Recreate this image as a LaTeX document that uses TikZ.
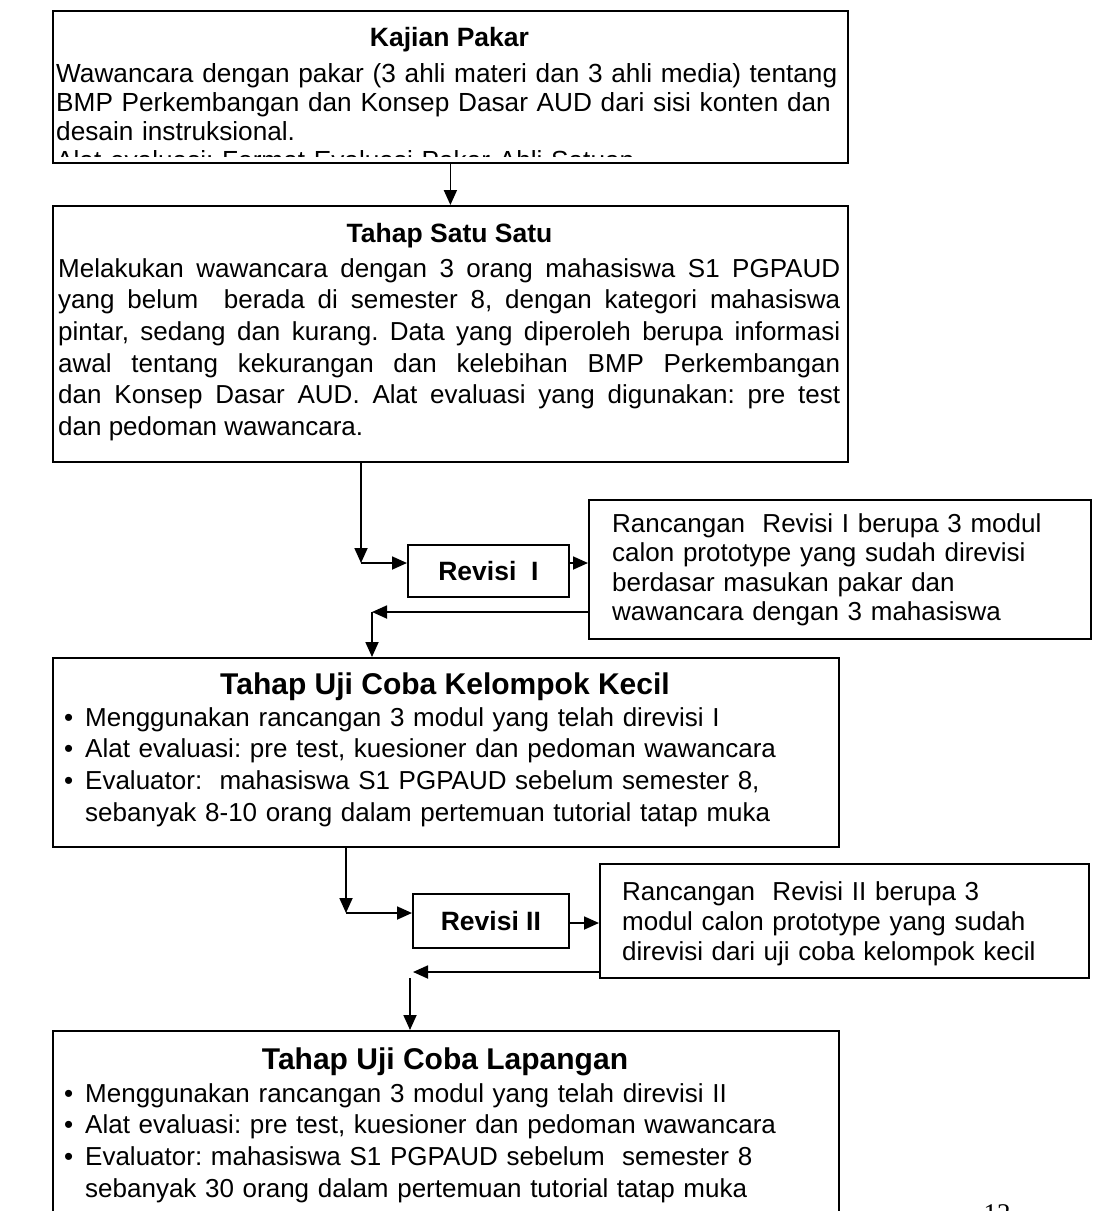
\documentclass[tikz,border=0pt]{standalone}
\usepackage{fontspec}
\setmainfont{Liberation Sans}
\newfontfamily\pagefont{Liberation Serif}
\usetikzlibrary{arrows.meta}
\frenchspacing
\hyphenpenalty=10000
\newcommand\blt{\noindent\makebox[21pt][l]{\textbullet}}
\newcommand\hng{\hfil\break\hspace*{21pt}}
\begin{document}
\begin{tikzpicture}[x=1pt,y=-1pt,
  box/.style={draw, line width=1.8pt, inner sep=0pt, anchor=north west},
  conn/.style={line width=1.8pt, -{Triangle[length=15pt,width=13pt]}},
  body/.style={inner sep=0pt, anchor=north west, align=left},
  bodyA/.style={body, font=\fontsize{26.2}{29}\selectfont\frenchspacing},
  bodyB/.style={body, font=\fontsize{26}{31.6}\selectfont\frenchspacing},
  bodyC/.style={body, font=\fontsize{26}{29.5}\selectfont\frenchspacing},
  bodyD/.style={body, font=\fontsize{26}{30}\selectfont\frenchspacing},
  ttl/.style={inner sep=0pt, anchor=base, font=\fontsize{26.5}{30}\selectfont\bfseries},
  bigttl/.style={inner sep=0pt, anchor=base, font=\fontsize{30}{34}\selectfont\bfseries},
]
\clip (0,0) rectangle (1093,1211);
\fill[white] (0,0) rectangle (1093,1211);

% boxes
\node[box, minimum width=795pt, minimum height=152pt] (b1) at (52,10) {};
\node[box, minimum width=795pt, minimum height=256pt] (b2) at (52,205) {};
\node[box, minimum width=161pt, minimum height=52pt] (rev1) at (407,544) {};
\node[box, minimum width=502pt, minimum height=139pt] (r1) at (588,499) {};
\node[box, minimum width=786pt, minimum height=189pt] (b3) at (52,657) {};
\node[box, minimum width=156pt, minimum height=54pt] (rev2) at (412,893) {};
\node[box, minimum width=489pt, minimum height=114pt] (r2) at (599,863) {};
\node[box, minimum width=786pt, minimum height=200pt] (b4) at (52,1030) {};

% box 1
\node[ttl] (t1) at (449.5,46) {Kajian Pakar};
\begin{scope}
\clip (53,11) rectangle (846,156);
\node[bodyA, text width=789pt] (x1) at (56,61.7) {\strut Wawancara dengan pakar (3 ahli materi dan 3 ahli media) tentang\\
BMP Perkembangan dan Konsep Dasar AUD dari sisi konten dan\\
desain instruksional.\\
Alat evaluasi: Format Evaluasi Pakar Ahli Satuan};
\end{scope}

% box 2
\node[ttl] (t2) at (449.5,242) {Tahap Satu Satu};
\node[bodyB, text width=782pt, align=justify] (x2) at (58,254.9) {\strut Melakukan wawancara dengan 3 orang mahasiswa S1 PGPAUD\linebreak
yang belum\ \ berada di semester 8, dengan kategori mahasiswa\linebreak
pintar, sedang dan kurang. Data yang diperoleh berupa informasi\linebreak
awal tentang kekurangan dan kelebihan BMP Perkembangan\linebreak
dan Konsep Dasar AUD. Alat evaluasi yang digunakan: pre test\linebreak
dan pedoman wawancara.};

% revisi I
\node[ttl, anchor=center] (tr1) at (rev1.center) {Revisi\ \ I};
\node[bodyC, text width=470pt] (xr1) at (612,511.4) {\strut Rancangan\ \ Revisi I berupa 3 modul\\
calon prototype yang sudah direvisi\\
berdasar masukan pakar dan\\
wawancara dengan 3 mahasiswa};

% box 3
\node[bigttl] (t3) at (445,694) {Tahap Uji Coba Kelompok Kecil};
\node[bodyB, text width=770pt] (x3) at (64,703.9) {\blt\strut Menggunakan rancangan 3 modul yang telah direvisi I\par
\blt Alat evaluasi: pre test, kuesioner dan pedoman wawancara\par
\blt Evaluator:\ \ mahasiswa S1 PGPAUD sebelum semester 8,\hng
sebanyak 8-10 orang dalam pertemuan tutorial tatap muka};

% revisi II
\node[ttl, anchor=center] (tr2) at (rev2.center) {Revisi II};
\node[bodyD, text width=460pt] (xr2) at (622,879) {\strut Rancangan\ \ Revisi II berupa 3\\
modul calon prototype yang sudah\\
direvisi dari uji coba kelompok kecil};

% box 4
\node[bigttl] (t4) at (445,1069) {Tahap Uji Coba Lapangan};
\node[bodyB, text width=770pt] (x4) at (64,1079.9) {\blt\strut Menggunakan rancangan 3 modul yang telah direvisi II\par
\blt Alat evaluasi: pre test, kuesioner dan pedoman wawancara\par
\blt Evaluator: mahasiswa S1 PGPAUD sebelum\ \ semester 8\hng
sebanyak 30 orang dalam pertemuan tutorial tatap muka};

% page number
\node[inner sep=0pt, anchor=base, font=\pagefont\fontsize{27}{30}\selectfont] (pg) at (997,1222) {12};

% connectors
\draw[conn] (b1.south) -- (b2.north);
\coordinate (c1) at (361,563);
\draw[conn] (b2.south -| c1) -- (c1);
\draw[conn] (c1) -- (rev1.west |- c1);
\draw[conn] (rev1.east |- c1) -- (r1.west |- c1);
\coordinate (c2) at (372,612);
\draw[conn] (r1.west |- c2) -- (c2);
\draw[conn] (c2) -- (c2 |- b3.north);
\coordinate (c3) at (346,913);
\draw[conn] (b3.south -| c3) -- (c3);
\draw[conn] (c3) -- (rev2.west |- c3);
\coordinate (m2) at (585,923);
\draw[conn] (rev2.east |- m2) -- (r2.west |- m2);
\coordinate (c5) at (413,972);
\draw[conn] (r2.west |- c5) -- (c5);
\coordinate (c6) at (410,978);
\draw[conn] (c6) -- (c6 |- b4.north);
\end{tikzpicture}
\end{document}
